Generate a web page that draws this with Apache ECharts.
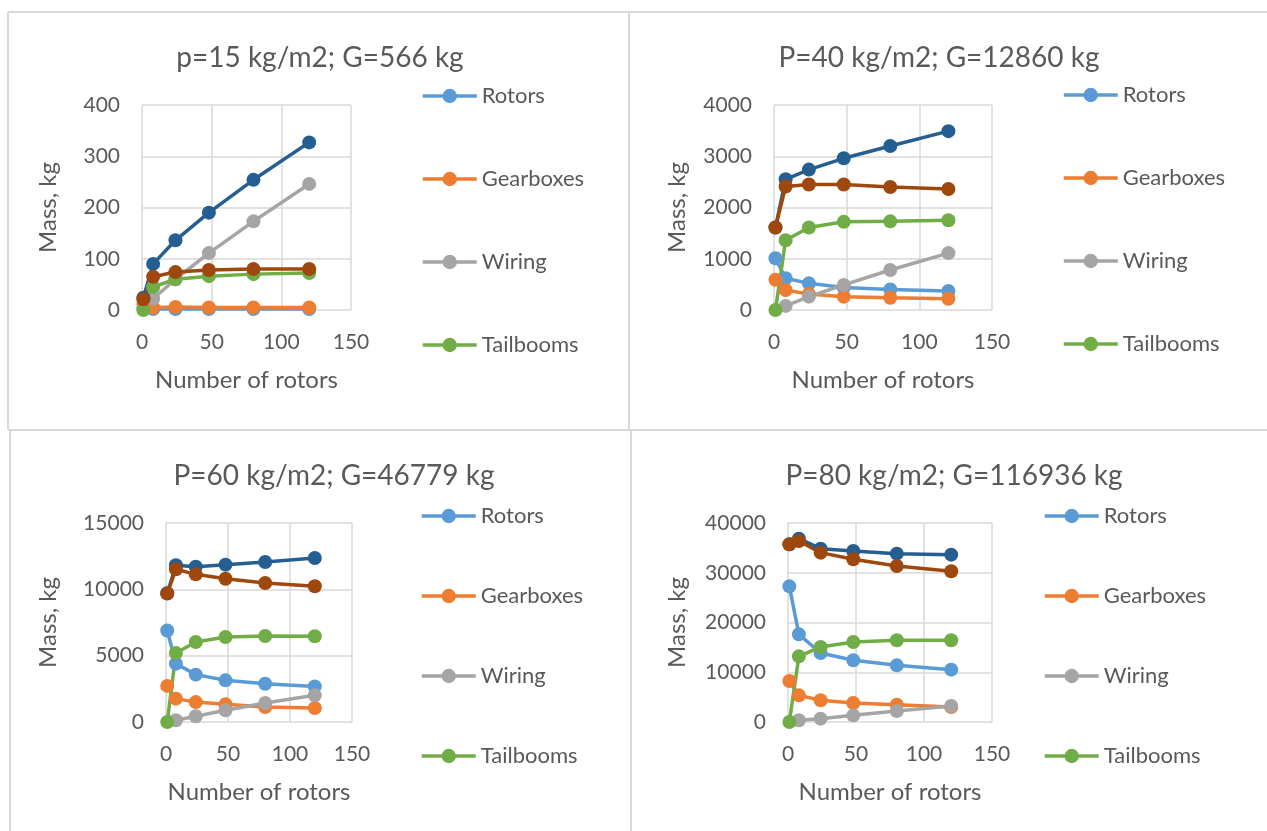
<!DOCTYPE html>
<html><head><meta charset="utf-8">
<script src="https://cdn.jsdelivr.net/npm/echarts@6/dist/echarts.min.js"></script>
<style>html,body{margin:0;padding:0;background:#fff}#c{width:1267px;height:831px}</style>
</head><body><div id="c"></div>
<script>
// ---- data ----
const rotorCounts = [1, 8, 24, 48, 80, 120];
const seriesNames = ['Rotors', 'Gearboxes', 'Wiring', 'Tailbooms', 'Total', 'Total without wiring'];
const legendNames = ['Rotors', 'Gearboxes', 'Wiring', 'Tailbooms'];
const panelTitles = ['p=15 kg/m2; G=566 kg', 'P=40 kg/m2; G=12860 kg', 'P=60 kg/m2; G=46779 kg', 'P=80 kg/m2; G=116936 kg'];
const yMax = [400, 4000, 15000, 40000];
const yStep = [100, 1000, 5000, 10000];

// p = 15 kg/m2
const p15Rotors    = [3, 2, 2, 2, 2, 2];
const p15Gearboxes = [12, 5, 6, 5, 5, 5];
const p15Wiring    = [null, 22, 60, 111, 173, 246];
const p15Tailbooms = [0, 45, 60, 66, 70, 72];
const p15Total     = [24, 90, 136, 190, 254, 327];
const p15NoWiring  = [21, 65, 74, 78, 80, 80];

// p = 40 kg/m2
const p40Rotors    = [1010, 620, 520, 440, 400, 370];
const p40Gearboxes = [590, 390, 310, 260, 240, 220];
const p40Wiring    = [null, 80, 260, 490, 780, 1110];
const p40Tailbooms = [0, 1360, 1610, 1720, 1730, 1750];
const p40Total     = [1610, 2550, 2740, 2960, 3200, 3490];
const p40NoWiring  = [1610, 2410, 2450, 2450, 2400, 2360];

// p = 60 kg/m2
const p60Rotors    = [6900, 4400, 3570, 3140, 2880, 2680];
const p60Gearboxes = [2720, 1760, 1500, 1330, 1130, 1060];
const p60Wiring    = [null, 130, 430, 880, 1430, 2010];
const p60Tailbooms = [0, 5200, 6030, 6410, 6480, 6460];
const p60Total     = [9700, 11810, 11700, 11860, 12060, 12360];
const p60NoWiring  = [9680, 11510, 11130, 10800, 10480, 10230];

// p = 80 kg/m2
const p80Rotors    = [27270, 17620, 13870, 12400, 11390, 10520];
const p80Gearboxes = [8240, 5360, 4360, 3820, 3480, 3020];
const p80Wiring    = [null, 340, 670, 1340, 2210, 3220];
const p80Tailbooms = [0, 13200, 15080, 16080, 16420, 16420];
const p80Total     = [35710, 36850, 34840, 34370, 33840, 33640];
const p80NoWiring  = [35710, 36380, 34040, 32700, 31360, 30290];

const panelData = [
  [p15Rotors, p15Gearboxes, p15Wiring, p15Tailbooms, p15Total, p15NoWiring],
  [p40Rotors, p40Gearboxes, p40Wiring, p40Tailbooms, p40Total, p40NoWiring],
  [p60Rotors, p60Gearboxes, p60Wiring, p60Tailbooms, p60Total, p60NoWiring],
  [p80Rotors, p80Gearboxes, p80Wiring, p80Tailbooms, p80Total, p80NoWiring]
];

// ---- styles / layout ----
const colors = ['#5B9BD5', '#ED7D31', '#A5A5A5', '#70AD47', '#255E91', '#9E480E'];
const FONT = 'Lato, "Liberation Sans", sans-serif';
const TXT = '#595959';
const GRIDC = '#D9D9D9';
const grids = [
  { left: 142, top: 105, width: 209, height: 205 },
  { left: 774, top: 105, width: 218, height: 205 },
  { left: 166, top: 523, width: 186, height: 199 },
  { left: 788, top: 523, width: 204, height: 199 }
];
const yNameGap = [82, 85, 106, 99];
const titlePos = [ {x: 315, y: 39}, {x: 934, y: 39}, {x: 329, y: 457}, {x: 949, y: 457} ];
const legendPos = [ {x: 416, y: 80, gap: 61}, {x: 1057, y: 79, gap: 61}, {x: 415, y: 500, gap: 58}, {x: 1038, y: 500, gap: 58} ];

const option = {
  animation: false,
  backgroundColor: '#fff',
  textStyle: { fontFamily: FONT },
  title: panelTitles.map((t, i) => ({
    text: t, left: titlePos[i].x, top: titlePos[i].y, textAlign: 'center',
    textStyle: { fontFamily: FONT, fontSize: 28, fontWeight: 'normal', color: TXT }
  })),
  legend: legendPos.map(p => ({
    data: legendNames, orient: 'vertical', left: p.x, top: p.y, itemGap: p.gap,
    itemWidth: 54, itemHeight: 18, selectedMode: false,
    lineStyle: { width: 3.5 },
    textStyle: { fontFamily: FONT, fontSize: 22, color: TXT }
  })),
  grid: grids.map(g => Object.assign({ containLabel: false }, g)),
  xAxis: grids.map((g, i) => ({
    type: 'value', gridIndex: i, min: 0, max: 150, interval: 50,
    name: 'Number of rotors', nameLocation: 'middle', nameGap: 58,
    nameTextStyle: { fontFamily: FONT, fontSize: 24, color: TXT },
    axisLine: { show: false }, axisTick: { show: false },
    axisLabel: { fontFamily: FONT, fontSize: 21, color: TXT, margin: 22, formatter: v => String(v) },
    splitLine: { show: true, lineStyle: { color: GRIDC, width: 1.5 } }
  })),
  yAxis: grids.map((g, i) => ({
    type: 'value', gridIndex: i, min: 0, max: yMax[i], interval: yStep[i],
    name: 'Mass, kg', nameLocation: 'middle', nameGap: yNameGap[i],
    nameTextStyle: { fontFamily: FONT, fontSize: 24, color: TXT },
    axisLine: { show: false }, axisTick: { show: false },
    axisLabel: { fontFamily: FONT, fontSize: 21, color: TXT, margin: 22, formatter: v => String(v) },
    splitLine: { show: true, lineStyle: { color: GRIDC, width: 1.5 } }
  })),
  series: [],
  graphic: [
    { type: 'line', shape: { x1: 8, y1: 12, x2: 1267, y2: 12 }, style: { stroke: GRIDC, lineWidth: 2 } },
    { type: 'line', shape: { x1: 8, y1: 12, x2: 8, y2: 430 }, style: { stroke: GRIDC, lineWidth: 2 } },
    { type: 'line', shape: { x1: 629, y1: 12, x2: 629, y2: 430 }, style: { stroke: GRIDC, lineWidth: 2 } },
    { type: 'line', shape: { x1: 8, y1: 430, x2: 1267, y2: 430 }, style: { stroke: GRIDC, lineWidth: 2 } },
    { type: 'line', shape: { x1: 10, y1: 430, x2: 10, y2: 831 }, style: { stroke: GRIDC, lineWidth: 2 } },
    { type: 'line', shape: { x1: 631, y1: 430, x2: 631, y2: 831 }, style: { stroke: GRIDC, lineWidth: 2 } }
  ]
};

panelData.forEach((arrs, p) => {
  arrs.forEach((vals, s) => {
    option.series.push({
      name: seriesNames[s], type: 'line', xAxisIndex: p, yAxisIndex: p,
      data: rotorCounts.map((x, k) => [x, vals[k]]),
      symbol: 'circle', symbolSize: 14, showSymbol: true, connectNulls: false,
      lineStyle: { color: colors[s], width: 3.5 },
      itemStyle: { color: colors[s] },
      emphasis: { disabled: true }
    });
  });
});

const chart = echarts.init(document.getElementById('c'), null, { renderer: 'canvas' });
chart.setOption(option);
</script>
</body></html>
